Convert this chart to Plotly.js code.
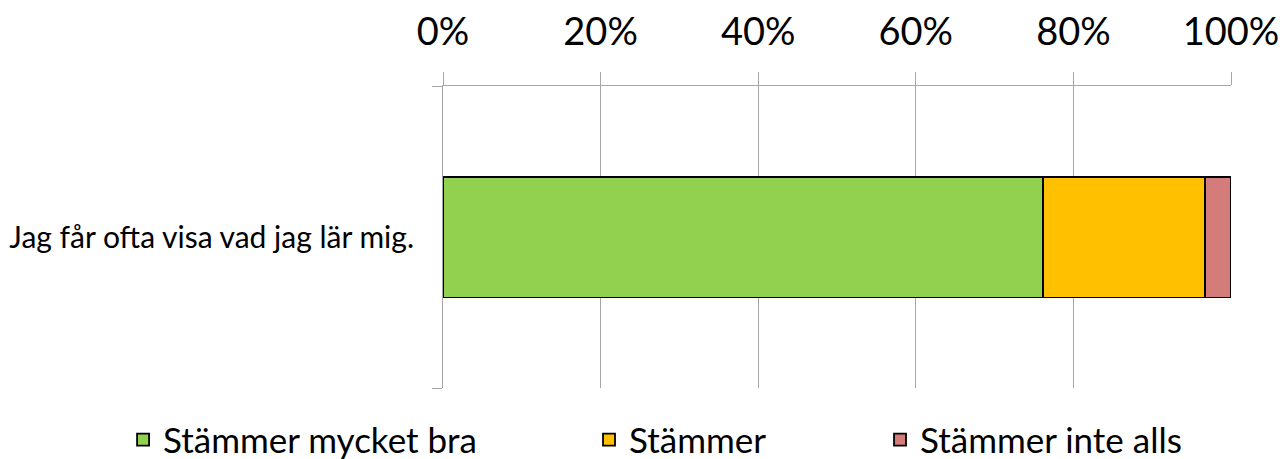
<!DOCTYPE html>
<html><head><meta charset="utf-8">
<script src="https://cdn.plot.ly/plotly-3.0.1.min.js"></script>
<style>html,body{margin:0;padding:0;background:#fff}#chart{width:1283px;height:459px}</style>
</head><body><div id="chart"></div>
<script>
const categories = ["Jag får ofta visa vad jag lär mig."];
const seriesNames = ["Stämmer mycket bra", "Stämmer", "Stämmer inte alls"];
const stammerMycketBra = [0.761];
const stammer = [0.206];
const stammerInteAlls = [0.033];
const tickVals = [0, 0.2, 0.4, 0.6, 0.8, 1.0];
const tickText = ["0%", "20%", "40%", "60%", "80%", "100%"];
const colors = ["#92d050", "#ffc000", "#d37c7a"];

const FONT = "Lato, 'Open Sans', sans-serif";
const values = [stammerMycketBra, stammer, stammerInteAlls];
const legendIds = ["legend", "legend2", "legend3"];
const traces = values.map((v, i) => ({
  type: "bar", orientation: "h", x: v, y: categories, name: seriesNames[i],
  marker: {color: colors[i], line: {color: "#000", width: 1.8}},
  legend: legendIds[i], width: 0.4, hoverinfo: "skip"
}));

function leg(x) {
  return {orientation: "h", x: x, xanchor: "left", y: -0.172, yanchor: "middle",
    font: {family: FONT, size: 35, color: "#000"}, bgcolor: "rgba(0,0,0,0)", borderwidth: 0};
}

const layout = {
  width: 1283, height: 459,
  margin: {l: 443, r: 52, t: 86, b: 71, pad: 0, autoexpand: false},
  paper_bgcolor: "#fff", plot_bgcolor: "#fff",
  barmode: "stack",
  showlegend: true,
  legend: leg(-0.406), legend2: leg(0.1853), legend3: leg(0.5546),
  xaxis: {
    side: "top", range: [0, 1], tickvals: tickVals, ticktext: tickText,
    showgrid: true, gridcolor: "#a6a6a6", gridwidth: 1,
    showline: true, linecolor: "#a6a6a6", linewidth: 1,
    ticks: "outside", ticklen: 13, tickcolor: "#a6a6a6", tickwidth: 1,
    tickfont: {family: FONT, size: 38, color: "#000"},
    ticklabelstandoff: 12,
    zeroline: false, fixedrange: true, automargin: false
  },
  yaxis: {
    type: "category", range: [-0.5, 0.5],
    showline: true, linecolor: "#a6a6a6", linewidth: 1,
    ticks: "outside", tickson: "boundaries", ticklen: 10, tickcolor: "#a6a6a6",
    showgrid: false, zeroline: false,
    tickfont: {family: FONT, size: 30, color: "#000"},
    ticklabelstandoff: 22, fixedrange: true, automargin: false
  }
};
Plotly.newPlot("chart", traces, layout, {displayModeBar: false, staticPlot: true});
</script></body></html>
